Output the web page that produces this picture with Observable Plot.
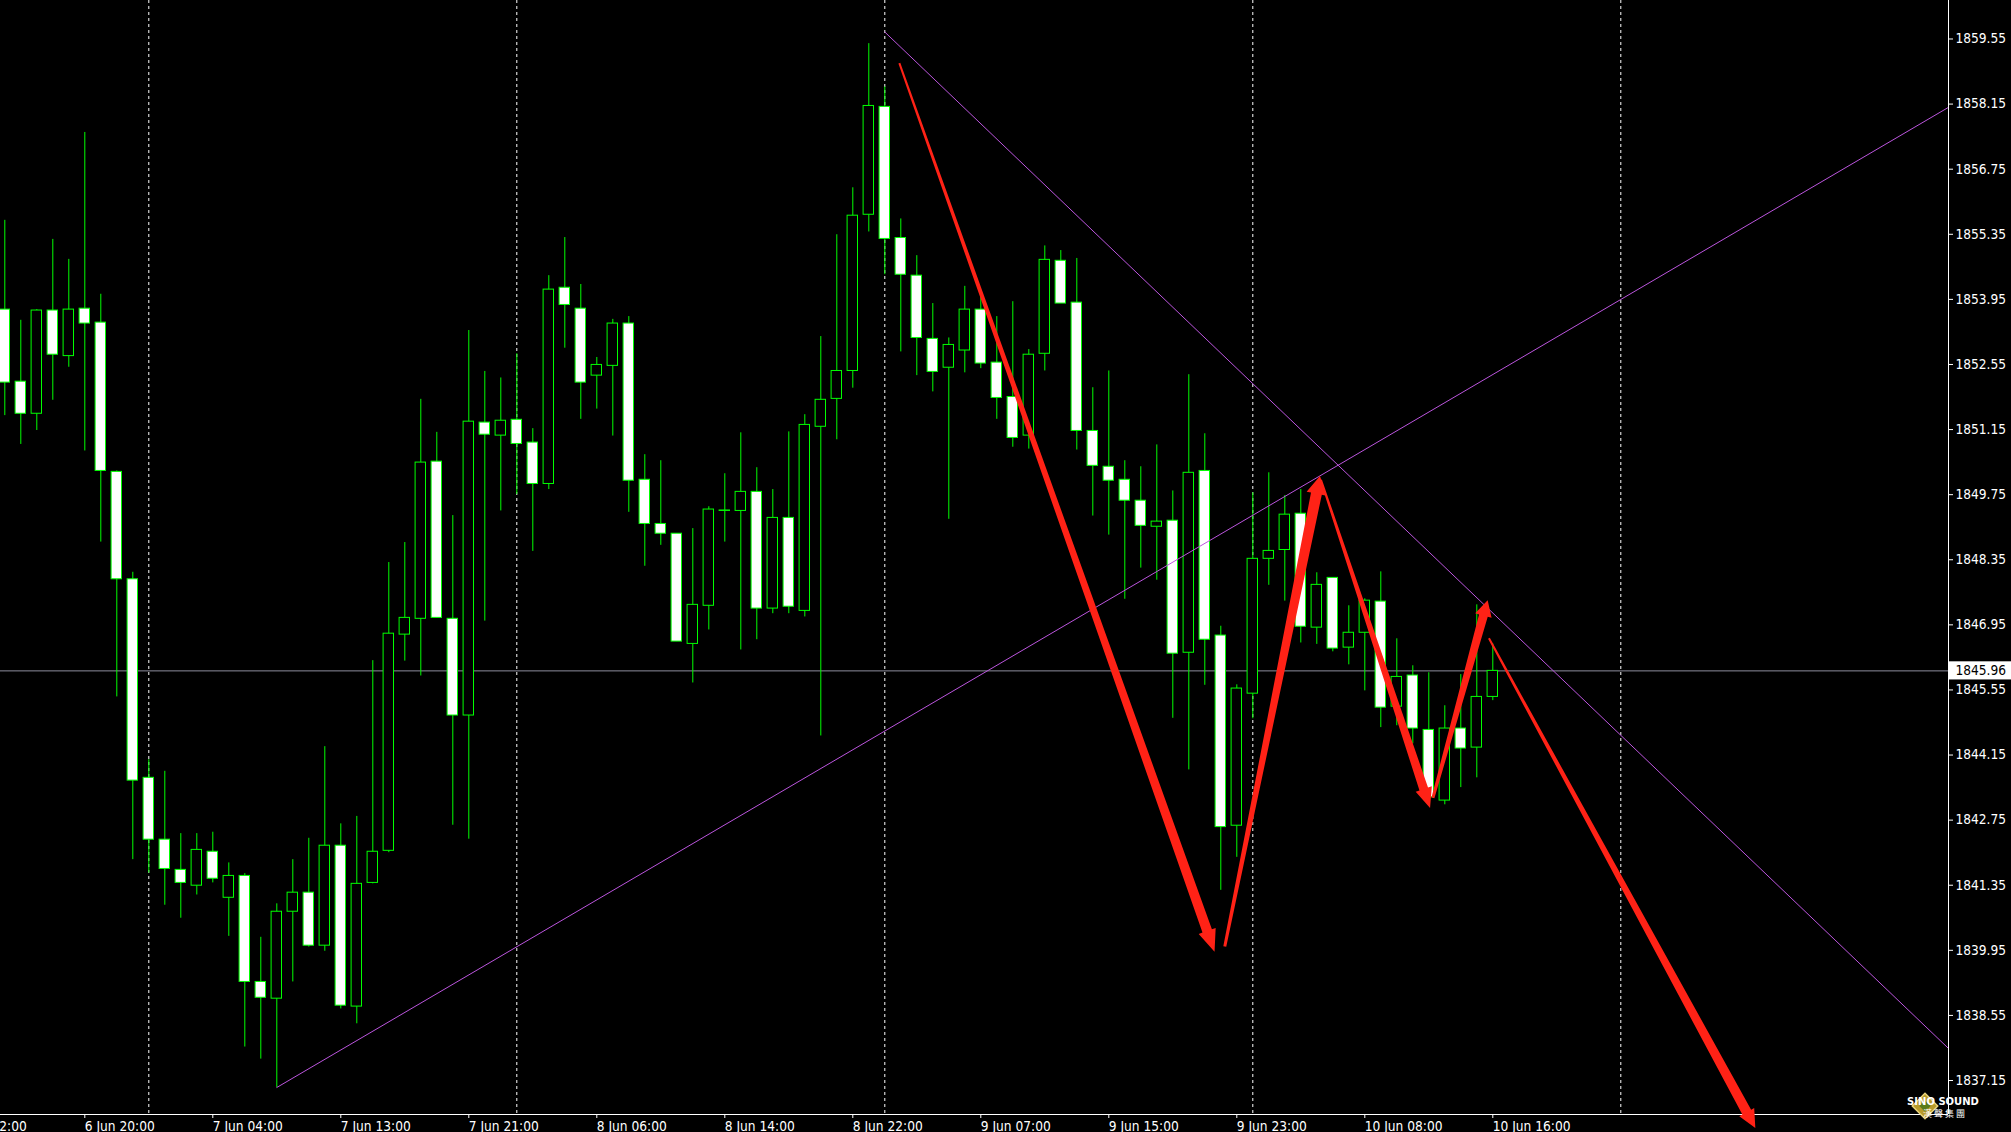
<!DOCTYPE html>
<html>
<head>
<meta charset="utf-8">
<script src="https://cdn.jsdelivr.net/npm/d3@7"></script>
<script src="https://cdn.jsdelivr.net/npm/@observablehq/plot@0.6"></script>
<style>
html, body { margin: 0; padding: 0; background: #000; overflow: hidden; }
#wrap { position: relative; width: 2011px; height: 1132px; background: #000; }
#wrap svg { display: block; }
</style>
</head>
<body>
<div id="wrap"></div>
<script>
// ---------- DATA (H1 candles, bar index 0..93) ----------
const open = [
  1853.73, 1852.18, 1851.49, 1853.71, 1852.73, 1853.75, 1853.45, 1850.24, 1847.93, 1843.66, // 0-9
  1842.33, 1841.68, 1841.34, 1842.07, 1841.08, 1841.55, 1839.27, 1838.91, 1840.78, 1841.19, // 10-19
  1840.05, 1842.20, 1838.74, 1841.40, 1842.09, 1846.74, 1847.08, 1850.46, 1847.08, 1845.00, // 20-29
  1851.30, 1851.02, 1851.36, 1850.87, 1849.98, 1854.20, 1853.75, 1852.31, 1852.52, 1853.43, // 30-39
  1850.07, 1849.12, 1848.91, 1846.54, 1847.36, 1849.40, 1849.40, 1849.81, 1847.30, 1849.25, // 40-49
  1847.25, 1851.21, 1851.81, 1852.41, 1855.77, 1858.09, 1855.27, 1854.46, 1853.10, 1852.48, // 50-59
  1852.85, 1853.73, 1852.59, 1851.85, 1851.02, 1852.78, 1854.78, 1853.88, 1851.12, 1850.35, // 60-69
  1850.07, 1849.62, 1849.06, 1849.19, 1846.35, 1850.26, 1846.72, 1842.63, 1845.47, 1848.37, // 70-79
  1848.56, 1849.34, 1846.89, 1847.96, 1846.46, 1846.78, 1847.45, 1845.19, 1845.86, 1844.69, // 80-89
  1843.17, 1844.72, 1844.31, 1845.40                                                     // 90-93
];
const high = [
  1855.65, 1853.50, 1853.73, 1855.24, 1854.81, 1857.54, 1854.06, 1850.26, 1848.08, 1844.05,
  1843.80, 1842.46, 1842.46, 1842.49, 1841.83, 1841.60, 1840.23, 1840.95, 1841.90, 1842.36,
  1844.33, 1842.67, 1842.83, 1846.18, 1848.29, 1848.72, 1851.80, 1851.09, 1849.30, 1853.28,
  1852.40, 1852.26, 1852.78, 1851.17, 1854.46, 1855.28, 1854.27, 1852.70, 1853.52, 1853.58,
  1850.61, 1850.48, 1848.91, 1849.02, 1849.49, 1850.20, 1851.08, 1850.33, 1849.86, 1851.10,
  1851.47, 1853.15, 1855.34, 1856.35, 1859.45, 1858.52, 1855.68, 1854.89, 1853.86, 1853.12,
  1854.23, 1854.00, 1853.58, 1853.90, 1852.87, 1855.10, 1855.00, 1854.83, 1852.05, 1852.41,
  1850.48, 1850.35, 1850.82, 1849.83, 1852.33, 1851.06, 1846.92, 1845.66, 1849.79, 1850.22,
  1849.73, 1849.86, 1848.07, 1847.96, 1847.36, 1847.51, 1848.09, 1846.65, 1846.07, 1845.92,
  1845.21, 1845.88, 1847.38, 1846.54
];
const low = [
  1851.45, 1850.83, 1851.13, 1851.78, 1852.49, 1850.69, 1848.73, 1845.40, 1841.90, 1841.61,
  1840.92, 1840.64, 1841.14, 1841.40, 1840.25, 1837.87, 1837.61, 1837.00, 1839.27, 1840.02,
  1839.93, 1838.69, 1838.37, 1841.38, 1842.05, 1846.17, 1845.85, 1847.10, 1842.64, 1842.34,
  1847.03, 1849.40, 1849.75, 1848.53, 1849.86, 1852.90, 1851.37, 1851.59, 1851.01, 1849.37,
  1848.21, 1848.66, 1846.59, 1845.70, 1846.84, 1848.73, 1846.41, 1846.63, 1847.19, 1847.19,
  1847.12, 1844.56, 1850.93, 1852.04, 1855.40, 1854.48, 1852.82, 1852.31, 1851.96, 1849.22,
  1852.37, 1852.46, 1851.37, 1850.77, 1850.73, 1852.41, 1853.86, 1850.71, 1849.29, 1848.88,
  1847.50, 1848.17, 1847.91, 1844.94, 1843.83, 1845.65, 1841.24, 1841.95, 1844.93, 1847.80,
  1847.46, 1846.56, 1846.53, 1846.37, 1846.09, 1845.53, 1844.74, 1844.78, 1844.39, 1843.17,
  1843.08, 1843.45, 1843.66, 1845.32
];
const close = [
  1852.16, 1851.49, 1853.71, 1852.76, 1853.73, 1853.43, 1850.26, 1847.93, 1843.60, 1842.33,
  1841.70, 1841.40, 1842.11, 1841.49, 1841.55, 1839.27, 1838.93, 1840.78, 1841.19, 1840.05,
  1842.20, 1838.76, 1841.38, 1842.07, 1846.76, 1847.10, 1850.44, 1847.10, 1845.00, 1851.32,
  1851.04, 1851.34, 1850.84, 1849.98, 1854.16, 1853.83, 1852.16, 1852.54, 1853.43, 1850.05,
  1849.12, 1848.91, 1846.59, 1847.38, 1849.43, 1849.41, 1849.81, 1847.30, 1849.25, 1847.34,
  1851.25, 1851.79, 1852.41, 1855.75, 1858.11, 1855.25, 1854.48, 1853.12, 1852.39, 1852.97,
  1853.73, 1852.57, 1851.83, 1850.97, 1852.76, 1854.80, 1853.86, 1851.12, 1850.37, 1850.05,
  1849.62, 1849.08, 1849.17, 1846.33, 1850.22, 1846.63, 1842.60, 1845.58, 1848.37, 1848.54,
  1849.32, 1846.91, 1847.81, 1846.44, 1846.78, 1847.47, 1845.17, 1845.83, 1844.72, 1843.24,
  1844.72, 1844.29, 1845.40, 1845.96
];

// time axis labels (bar index -> label)
const xTickBars = [-3, 5, 13, 21, 29, 37, 45, 53, 61, 69, 77, 85, 93];
const xTickLabels = ["6 Jun 12:00", "6 Jun 20:00", "7 Jun 04:00", "7 Jun 13:00", "7 Jun 21:00",
  "8 Jun 06:00", "8 Jun 14:00", "8 Jun 22:00", "9 Jun 07:00", "9 Jun 15:00", "9 Jun 23:00",
  "10 Jun 08:00", "10 Jun 16:00"];

// price axis labels
const yTicks = [1837.15, 1838.55, 1839.95, 1841.35, 1842.75, 1844.15, 1845.55, 1846.95,
  1848.35, 1849.75, 1851.15, 1852.55, 1853.95, 1855.35, 1856.75, 1858.15, 1859.55];

// dashed period separators (bar index)
const separatorBars = [9, 32, 55, 78, 101];

// current (bid) price
const currentPrice = 1845.96;

// trend lines: [bar, price] pairs
const risingTrend = [[17, 1837.00], [121.48, 1858.08]];
const fallingTrend = [[55, 1859.70], [121.48, 1837.84]];

// red arrows: from [bar, price] to [bar, price]
const arrowFrom = [[55.94, 1859.02], [76.28, 1840.02], [82.29, 1850.06], [89.29, 1843.22], [92.79, 1846.65]];
const arrowTo   = [[75.64, 1839.91], [82.23, 1850.14], [89.11, 1843.00], [92.71, 1847.47], [109.44, 1836.12]];

// ---------- CHART ----------
const FONT = "'DejaVu Sans Condensed', 'DejaVu Sans', sans-serif";
const candles = open.map((o, i) => ({i, o, h: high[i], l: low[i], c: close[i]}));
const xDomain = [-0.26875, 121.48125];
const yDomain = [1836.419, 1860.378];
const GREEN = "#00ff00";

const chart = Plot.plot({
  width: 2011,
  height: 1132,
  marginTop: 0,
  marginRight: 63,
  marginBottom: 18,
  marginLeft: 0,
  style: {background: "#000", color: "#ffffff", fontFamily: FONT, fontSize: "13.6px", overflow: "visible"},
  x: {type: "linear", domain: xDomain, axis: null},
  y: {type: "linear", domain: yDomain, axis: null},
  color: {type: "identity"},
  marks: [
    Plot.ruleX(separatorBars, {x: d => d, stroke: "#ffffff", strokeDasharray: "3,3", strokeWidth: 1}),
    Plot.ruleY([currentPrice], {y: d => d, stroke: "#8e8e9e", strokeWidth: 1}),
    Plot.ruleX(candles, {x: "i", y1: "l", y2: "h", stroke: GREEN, strokeWidth: 1}),
    Plot.rect(candles, {
      x1: d => d.i - 0.325, x2: d => d.i + 0.325,
      y1: "o", y2: "c",
      fill: d => (d.c > d.o ? "#000000" : "#ffffff"),
      stroke: GREEN, strokeWidth: 1
    }),
    Plot.line(risingTrend, {x: d => d[0], y: d => d[1], stroke: "#bb55dd", strokeWidth: 1}),
    Plot.line(fallingTrend, {x: d => d[0], y: d => d[1], stroke: "#bb55dd", strokeWidth: 1}),
    Plot.ruleX([xDomain[1]], {x: d => d, stroke: "#ffffff", strokeWidth: 1}),
    Plot.ruleY([yDomain[0]], {y: d => d, stroke: "#ffffff", strokeWidth: 1}),
    Plot.axisY(yTicks, {
      anchor: "right", tickSize: 4, tickPadding: 3, label: null,
      tickFormat: d => d.toFixed(2), fill: "#ffffff", stroke: "#ffffff"
    }),
    Plot.axisX(xTickBars, {
      anchor: "bottom", tickSize: 4, tickPadding: 3, label: null, textAnchor: "start",
      tickFormat: d => xTickLabels[xTickBars.indexOf(d)], fill: "#ffffff", stroke: "#ffffff"
    }),
    Plot.rect([currentPrice], {
      x1: () => xDomain[1], x2: () => xDomain[1] + 4.0,
      y1: d => d - 0.195, y2: d => d + 0.195, fill: "#ffffff"
    }),
    Plot.text([currentPrice], {
      x: () => xDomain[1], y: d => d, text: d => d.toFixed(2),
      textAnchor: "start", dx: 7, fill: "#000000"
    })
  ]
});

document.getElementById("wrap").appendChild(chart);

// red brush arrows, positioned through the plot's own scales
const sx = chart.scale("x"), sy = chart.scale("y");
const arrowStyle = [
  {w0: 2, w1: 10, hw: 18, hl: 22},
  {w0: 3, w1: 11, hw: 20, hl: 18},
  {w0: 2, w1: 9, hw: 17, hl: 20},
  {w0: 3, w1: 9, hw: 17, hl: 16},
  {w0: 2, w1: 10, hw: 17, hl: 18}
];
const arrowPoly = (from, to, st) => {
  const x0 = sx.apply(from[0]), y0 = sy.apply(from[1]);
  const x1 = sx.apply(to[0]), y1 = sy.apply(to[1]);
  const L = Math.hypot(x1 - x0, y1 - y0);
  const ux = (x1 - x0) / L, uy = (y1 - y0) / L;
  const nx = -uy, ny = ux;
  const bx = x1 - ux * st.hl, by = y1 - uy * st.hl;
  const pts = [
    [x0 + nx * st.w0 / 2, y0 + ny * st.w0 / 2],
    [bx + nx * st.w1 / 2, by + ny * st.w1 / 2],
    [bx + nx * st.hw / 2, by + ny * st.hw / 2],
    [x1, y1],
    [bx - nx * st.hw / 2, by - ny * st.hw / 2],
    [bx - nx * st.w1 / 2, by - ny * st.w1 / 2],
    [x0 - nx * st.w0 / 2, y0 - ny * st.w0 / 2]
  ];
  return pts.map(p => p.join(",")).join(" ");
};
d3.select(chart).append("g")
  .selectAll("polygon")
  .data(arrowFrom.map((f, k) => ({f, t: arrowTo[k], s: arrowStyle[k]})))
  .join("polygon")
  .attr("points", d => arrowPoly(d.f, d.t, d.s))
  .attr("fill", "#ff2216");

// watermark logo (bottom right)
const logo = d3.select(chart).append("g").attr("transform", "translate(1925,1106)");
logo.append("rect").attr("x", -9).attr("y", -9).attr("width", 18).attr("height", 18)
  .attr("transform", "rotate(45)").attr("fill", "#b89a2a").attr("stroke", "#e8d27a").attr("stroke-width", 1.5);
logo.append("rect").attr("x", -4).attr("y", -4).attr("width", 8).attr("height", 8)
  .attr("transform", "rotate(45)").attr("fill", "#5a7a1a");
logo.append("text").attr("x", 18).attr("y", -1).text("SINO SOUND")
  .attr("fill", "#ffffff").attr("font-size", 10).attr("font-weight", "bold").attr("font-family", "'DejaVu Sans', sans-serif");
logo.append("text").attr("x", 19).attr("y", 11).text("漢 聲 集 團")
  .attr("fill", "#ffffff").attr("font-size", 9).attr("font-family", "'Noto Sans CJK TC', sans-serif");
</script>
</body>
</html>
